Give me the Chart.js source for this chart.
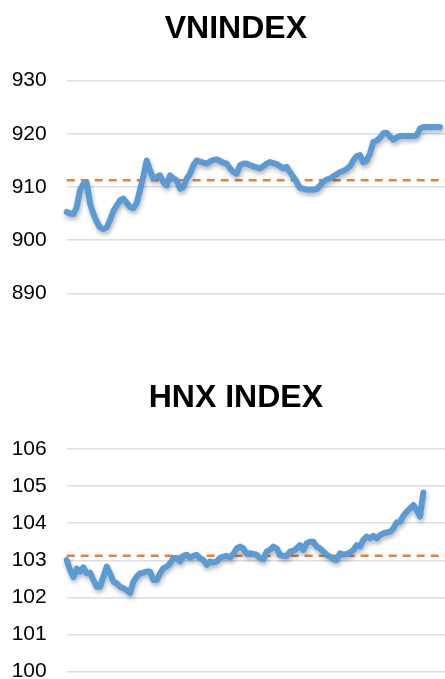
<!DOCTYPE html>
<html>
<head>
<meta charset="utf-8">
<script src="https://cdn.jsdelivr.net/npm/chart.js@4/dist/chart.umd.min.js"></script>
<style>
html,body{margin:0;padding:0;background:#fff;overflow:hidden;width:445px;height:679px;}
#c1{position:absolute;left:0;top:0;}
#c2{position:absolute;left:0;top:340px;}
</style>
</head>
<body>
<canvas id="c1" width="459" height="330"></canvas>
<canvas id="c2" width="459" height="380"></canvas>
<script>
// ---- data ----
const vnTitle = "VNINDEX";
const vnValues = [905.3,905.0,904.9,906.2,909.4,910.6,910.8,906.9,905.0,903.5,
902.4,902.1,902.4,903.8,905.5,906.5,907.5,907.8,907.0,906.2,
906.0,907.0,909.5,912.0,915.0,913.1,911.6,911.9,912.2,910.9,
910.3,912.2,911.6,911.3,909.7,910.0,911.6,912.5,914.1,915.0,
914.8,914.6,914.4,914.8,915.1,915.2,914.9,914.6,914.4,913.5,
912.8,912.5,914.1,914.4,914.4,914.1,913.9,913.7,913.5,913.9,
914.4,914.7,914.5,914.3,913.9,913.5,913.8,912.8,911.9,910.9,
909.8,909.7,909.5,909.5,909.5,909.6,910.3,911.0,911.4,911.6,
912.0,912.4,912.8,913.0,913.4,913.9,915.0,915.8,916.0,914.6,
915.0,916.3,918.5,918.7,919.3,920.1,920.2,919.5,918.9,919.3,
919.6,919.6,919.6,919.6,919.6,919.7,921.0,921.3,921.3,921.3,
921.3,921.3,921.3];
const vnRef = 911.25;
const vnTicks = [890, 900, 910, 920, 930];

const hnxTitle = "HNX INDEX";
const hnxValues = [103.01,102.74,102.55,102.78,102.70,102.81,102.65,102.67,102.47,102.29,
102.29,102.56,102.83,102.65,102.43,102.38,102.29,102.25,102.20,102.12,
102.42,102.56,102.65,102.67,102.70,102.70,102.47,102.47,102.65,102.79,
102.83,102.92,103.06,103.06,102.97,103.12,103.15,103.07,103.12,103.15,
103.06,103.01,102.88,102.97,102.94,102.97,103.07,103.10,103.12,103.08,
103.17,103.32,103.37,103.32,103.17,103.19,103.17,103.15,103.06,103.03,
103.24,103.28,103.37,103.32,103.15,103.12,103.12,103.24,103.26,103.32,
103.41,103.28,103.46,103.50,103.50,103.37,103.32,103.24,103.15,103.10,
103.03,103.01,103.19,103.15,103.17,103.21,103.28,103.41,103.37,103.55,
103.64,103.59,103.66,103.59,103.68,103.73,103.75,103.77,103.86,104.02,
104.04,104.20,104.31,104.40,104.49,104.36,104.18,104.83];
const hnxRef = 103.125;
const hnxTicks = [100, 101, 102, 103, 104, 105, 106];

const xSlots = 117.7; // time slots spanned by the axis

// ---- drawing ----
const FONT = "'Liberation Sans', Arial, sans-serif";
const shadowPlugin = {
  id: 'lineShadow',
  beforeDatasetDraw(chart, args) {
    if (args.index !== 0) return;
    const ctx = chart.ctx;
    ctx.save();
    ctx.shadowColor = 'rgba(0,0,0,0.28)';
    ctx.shadowBlur = 4;
    ctx.shadowOffsetX = 1;
    ctx.shadowOffsetY = 3;
  },
  afterDatasetDraw(chart, args) {
    if (args.index !== 0) return;
    chart.ctx.restore();
  }
};

function makeChart(id, title, values, ref, ticks, titlePad, layoutPad) {
  const step = ticks[1] - ticks[0];
  return new Chart(document.getElementById(id), {
    type: 'line',
    data: {
      datasets: [
        {
          data: values.map((v, i) => ({x: i, y: v})),
          borderColor: '#5b9bd5',
          borderWidth: 6,
          pointRadius: 0,
          tension: 0,
          borderJoinStyle: 'round',
          borderCapStyle: 'round',
          fill: false
        },
        {
          data: [{x: 0, y: ref}, {x: xSlots, y: ref}],
          borderColor: '#ed7d31',
          borderWidth: 2.5,
          borderDash: [8, 6],
          pointRadius: 0,
          fill: false
        }
      ]
    },
    options: {
      responsive: false,
      devicePixelRatio: 1,
      animation: false,
      clip: false,
      layout: {padding: layoutPad},
      plugins: {
        legend: {display: false},
        tooltip: {enabled: false},
        title: {
          display: true,
          text: title,
          color: '#000',
          font: {family: FONT, size: 32, weight: 'bold', lineHeight: 1.2},
          padding: titlePad
        }
      },
      scales: {
        x: {
          type: 'linear',
          min: 0,
          max: xSlots,
          display: false
        },
        y: {
          min: ticks[0],
          max: ticks[ticks.length - 1],
          border: {display: false},
          grid: {color: '#d9dee8', lineWidth: 1.5, drawTicks: false},
          afterFit(scale) { scale.width = 54; },
          ticks: {
            stepSize: step,
            padding: 20,
            color: '#000',
            font: {family: FONT, size: 21}
          }
        }
      }
    },
    plugins: [shadowPlugin]
  });
}

makeChart('c1', vnTitle, vnValues, vnRef, vnTicks,
  {top: 9.8, bottom: 32.5}, {left: 12.7, right: 0, top: 0, bottom: 36.7});
makeChart('c2', hnxTitle, hnxValues, hnxRef, hnxTicks,
  {top: 38.8, bottom: 31.8}, {left: 12.7, right: 0, top: 0, bottom: 48.3});
</script>
</body>
</html>
